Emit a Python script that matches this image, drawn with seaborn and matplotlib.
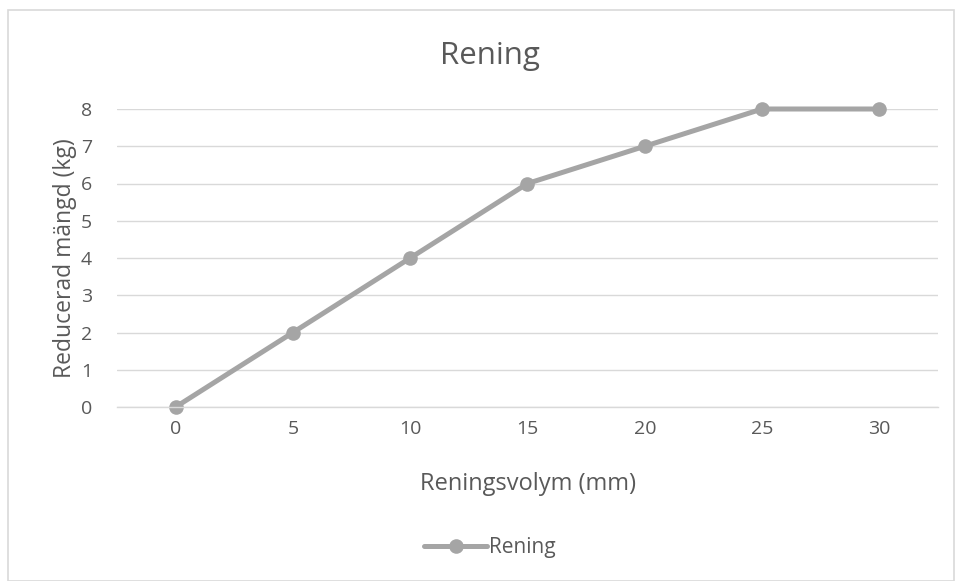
import matplotlib
matplotlib.use("Agg")
import matplotlib.pyplot as plt
import seaborn as sns
import pandas as pd
from matplotlib.patches import Rectangle

volym = [0, 5, 10, 15, 20, 25, 30]
rening = [0, 2, 4, 6, 7, 8, 8]
series_name = "Rening"

sns.set_theme(style="white")
plt.rcParams['font.family'] = ['Open Sans', 'DejaVu Sans']

df = pd.DataFrame({"x": volym, "y": rening, "s": series_name})

fig = plt.figure(figsize=(9.57, 5.81), dpi=100)
ax = fig.add_axes([117/957, 1-407/581, 821/957, 298/581])

sns.lineplot(data=df, x="x", y="y", hue="s", palette=["#A5A5A5"], marker="o",
             markersize=10.5, markeredgewidth=0, linewidth=3.6, ax=ax, legend=True)

ax.set_xlim(-2.5, 32.5)
ax.set_ylim(0, 8)
ax.set_xticks(volym)
ax.set_yticks(range(0, 9))
ax.grid(axis="y", color="#D9D9D9", linewidth=1)
ax.set_axisbelow(True)
for s in ["top", "right", "left"]:
    ax.spines[s].set_visible(False)
ax.spines["bottom"].set_color("#D9D9D9")
ax.spines["bottom"].set_linewidth(1)
ax.tick_params(axis="x", length=0, labelsize=14, labelcolor="#595959", pad=9)
ax.tick_params(axis="y", length=0, labelsize=14, labelcolor="#595959", pad=18)
ax.set_xlabel("Reningsvolym (mm)", fontsize=17, color="#595959", labelpad=25)
ax.set_ylabel("Reducerad mängd (kg)", fontsize=16.5, color="#595959", labelpad=3)
for l in ax.get_lines():
    l.set_clip_on(False)

fig.text(490/957, 1-56/581, "Rening", fontsize=22.5, color="#595959", ha="center", va="center")

leg = fig.legend(loc="center", bbox_to_anchor=(490/957, 1-548/581), frameon=False,
                 fontsize=15, labelcolor="#595959", handlelength=3.0, handletextpad=0.1)
if ax.get_legend() is not None:
    ax.get_legend().remove()

fig.patches.append(Rectangle((8/957, 0), 946/957, 1-10/581, transform=fig.transFigure,
                             fill=False, edgecolor="#D9D9D9", linewidth=1.2))

fig.savefig("out.png", dpi=100, facecolor="white")
